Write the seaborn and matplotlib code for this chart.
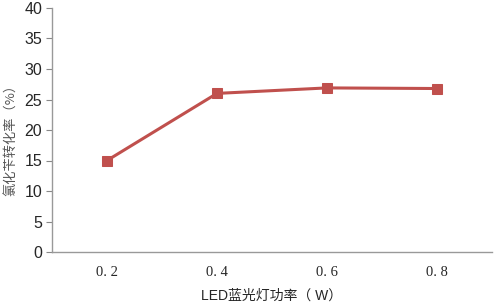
import pandas as pd
import seaborn as sns
from matplotlib import pyplot as plt

power = ['0.2', '0.4', '0.6', '0.8']
conversion = [15.0, 26.0, 26.9, 26.8]

df = pd.DataFrame({'power': power, 'conversion': conversion})

sns.set_style('white')
plt.rcParams['font.family'] = ['Liberation Sans', 'Noto Sans CJK SC', 'DejaVu Sans']

fig = plt.figure(figsize=(4.94, 3.06), dpi=100)
ax = fig.add_axes([52 / 494, 54 / 306, 440 / 494, 244 / 306])

sns.lineplot(data=df, x='power', y='conversion', ax=ax, color='#C0504D',
             linewidth=2.2, marker='s', markersize=7, markeredgecolor='#C0504D')

ax.set_xlim(-0.5, 3.5)
ax.set_ylim(0, 40)
ax.set_yticks(range(0, 41, 5))
ax.set_xticks(range(len(power)))
ax.set_xticklabels(['0. 2', '0. 4', '0. 6', '0. 8'], family=['Liberation Serif', 'Noto Sans CJK SC'], fontsize=10.5)
ax.tick_params(axis='y', left=True, length=4, width=0.8, color='#888888', labelsize=11.5, pad=3)
ax.tick_params(axis='x', bottom=False, length=0, pad=10)

for s in ['top', 'right']:
    ax.spines[s].set_visible(False)
for s in ['left', 'bottom']:
    ax.spines[s].set_color('#999999')
    ax.spines[s].set_linewidth(1)

ax.set_xlabel('LED蓝光灯功率（ W）', fontsize=10, va='center',
              family=['Liberation Sans', 'Noto Sans CJK SC'])
ax.xaxis.set_label_coords(220 / 440, -44 / 244)
ax.set_ylabel('氯化苄转化率（%）', fontsize=9.5, color='#555555', va='center',
              family=['Noto Sans CJK SC', 'DejaVu Sans'])
ax.yaxis.set_label_coords(-40 / 440, 0.47)

fig.savefig('out.png', dpi=100)
